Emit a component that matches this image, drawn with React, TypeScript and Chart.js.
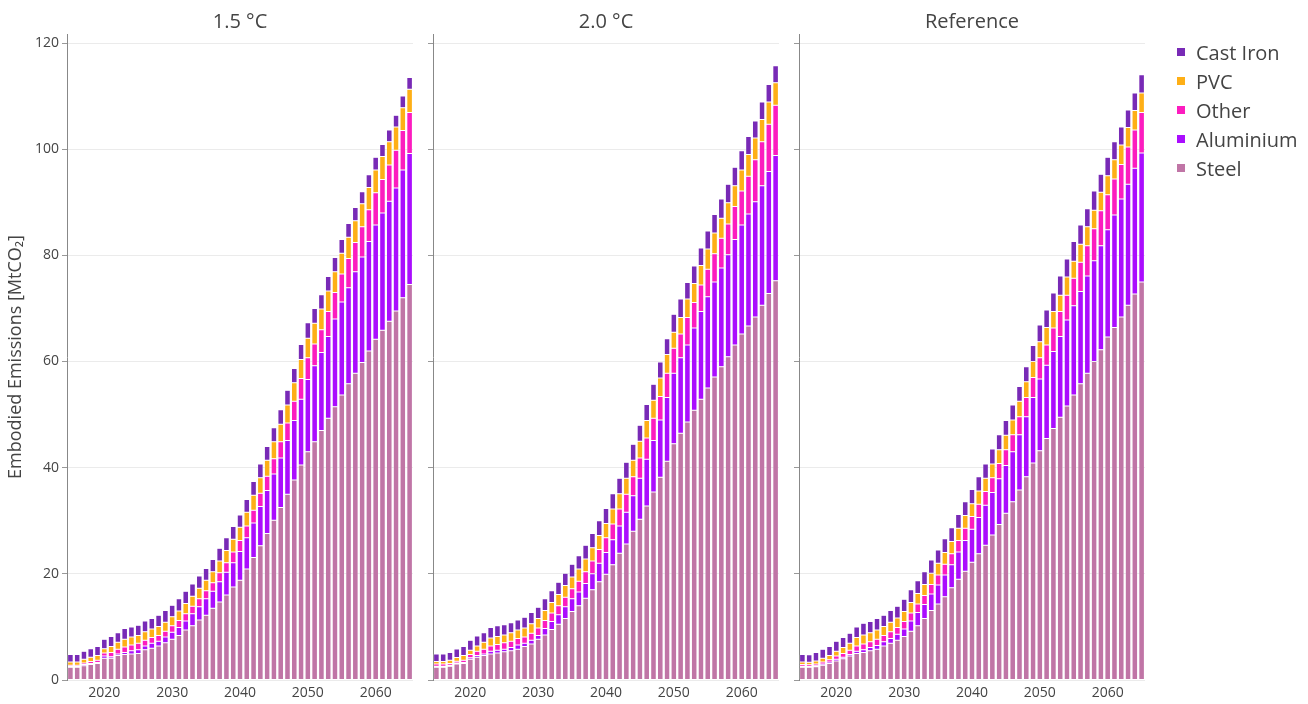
import React, { useEffect, useRef } from "react";
import { Chart, registerables } from "chart.js";

Chart.register(...registerables);

// ---------- data ----------
const years = [
  "2015", "2016", "2017", "2018", "2019", "2020", "2021", "2022", "2023", "2024",
  "2025", "2026", "2027", "2028", "2029", "2030", "2031", "2032", "2033", "2034",
  "2035", "2036", "2037", "2038", "2039", "2040", "2041", "2042", "2043", "2044",
  "2045", "2046", "2047", "2048", "2049", "2050", "2051", "2052", "2053", "2054",
  "2055", "2056", "2057", "2058", "2059", "2060", "2061", "2062", "2063", "2064", "2065",
];

const panelTitles = ["1.5 °C", "2.0 °C", "Reference"];
const seriesNames = ["Steel", "Aluminium", "Other", "PVC", "Cast Iron"];
const seriesColors = ["#C075A6", "#AA0DFE", "#FC1CBF", "#FEAF16", "#782AB6"];
const yTicks = [0, 20, 40, 60, 80, 100, 120];
const xTickLabels = ["2020", "2030", "2040", "2050", "2060"];

// 1.5 °C
const steel15 = [2.4, 2.4, 2.7, 2.9, 3.1, 4.1, 4.1, 4.6, 4.8, 4.9, 5.0, 5.7, 6.0, 6.4, 7.0, 7.7, 8.4, 9.4, 10.2, 11.3, 12.2, 13.5, 14.7, 16.0, 17.5, 18.8, 20.9, 23.1, 25.3, 27.6, 30.1, 32.5, 35.0, 37.7, 40.5, 43.0, 44.9, 47.0, 49.3, 51.5, 53.7, 55.8, 57.8, 59.8, 62.0, 64.2, 65.9, 67.6, 69.5, 72.0, 74.5];
const alu15 = [0.15, 0.15, 0.2, 0.2, 0.2, 0.4, 0.3, 0.3, 0.4, 0.6, 0.7, 0.7, 0.9, 0.9, 1.1, 1.3, 1.5, 1.7, 2.3, 2.5, 3.1, 3.2, 3.8, 4.3, 4.6, 5.4, 5.9, 6.5, 7.4, 8.1, 8.7, 9.3, 10.1, 11.2, 12.4, 13.6, 14.3, 14.7, 15.4, 16.5, 17.5, 18.1, 19.1, 19.9, 20.6, 21.5, 22.1, 22.6, 23.2, 24.1, 24.7];
const other15 = [0.25, 0.25, 0.3, 0.4, 0.4, 0.6, 0.8, 0.9, 1.0, 1.1, 1.2, 1.1, 1.1, 1.1, 1.1, 1.2, 1.3, 1.4, 1.4, 1.5, 1.5, 1.6, 1.7, 1.8, 2.0, 2.1, 2.2, 2.4, 2.5, 2.7, 2.9, 3.1, 3.3, 3.6, 3.9, 4.1, 4.1, 4.3, 4.7, 5.0, 5.3, 5.5, 5.5, 5.7, 6.0, 6.1, 6.3, 6.8, 7.1, 7.4, 7.7];
const pvc15 = [0.6, 0.6, 0.7, 0.8, 0.9, 0.8, 1.1, 1.3, 1.5, 1.5, 1.5, 1.6, 1.6, 1.7, 1.7, 1.7, 1.8, 1.9, 1.9, 2.0, 2.0, 2.1, 2.2, 2.3, 2.4, 2.5, 2.6, 2.8, 2.9, 3.0, 3.2, 3.3, 3.4, 3.5, 3.6, 3.7, 3.9, 3.9, 3.9, 3.9, 3.9, 4.0, 4.1, 4.3, 4.2, 4.3, 4.3, 4.4, 4.4, 4.3, 4.4];
const cast15 = [1.4, 1.4, 1.5, 1.6, 1.7, 1.8, 1.9, 1.8, 2.0, 1.9, 1.9, 2.0, 2.0, 2.1, 2.2, 2.2, 2.3, 2.3, 2.3, 2.3, 2.2, 2.3, 2.4, 2.4, 2.4, 2.3, 2.4, 2.6, 2.6, 2.6, 2.6, 2.7, 2.8, 2.7, 2.8, 2.9, 2.8, 2.7, 2.7, 2.7, 2.6, 2.6, 2.5, 2.3, 2.4, 2.4, 2.3, 2.2, 2.2, 2.2, 2.2];

// 2.0 °C
const steel20 = [2.4, 2.4, 2.6, 3.0, 3.1, 3.9, 4.3, 4.6, 4.9, 5.1, 5.3, 5.5, 5.8, 6.3, 6.8, 7.7, 8.5, 9.5, 10.5, 11.6, 12.9, 14.0, 15.4, 17.0, 18.5, 19.9, 21.7, 23.9, 25.6, 28.0, 30.3, 32.8, 35.4, 38.2, 41.2, 44.5, 46.5, 48.6, 50.8, 52.9, 55.0, 57.1, 59.0, 60.9, 63.1, 65.2, 66.7, 68.4, 70.6, 72.8, 75.2];
const alu20 = [0.2, 0.2, 0.2, 0.2, 0.2, 0.3, 0.3, 0.3, 0.5, 0.5, 0.5, 0.6, 0.8, 0.6, 0.7, 0.7, 1.2, 1.5, 1.8, 2.2, 2.4, 2.6, 2.8, 3.0, 3.5, 4.1, 4.7, 5.1, 6.0, 6.7, 7.7, 8.8, 9.7, 10.8, 12.0, 13.3, 14.2, 14.5, 15.5, 16.5, 17.2, 17.9, 18.6, 19.2, 19.9, 20.5, 21.1, 21.7, 22.5, 23.0, 23.6];
const other20 = [0.4, 0.4, 0.3, 0.35, 0.4, 0.6, 0.8, 0.9, 1.0, 1.1, 1.2, 1.2, 1.2, 1.2, 1.3, 1.4, 1.5, 1.6, 1.7, 1.8, 1.9, 2.0, 2.2, 2.4, 2.6, 2.8, 3.0, 3.2, 3.4, 3.6, 3.8, 4.0, 4.2, 4.4, 4.6, 4.7, 4.5, 5.2, 4.8, 5.0, 5.2, 5.3, 5.6, 5.8, 6.2, 6.4, 7.1, 7.9, 8.3, 8.9, 9.5];
const pvc20 = [0.5, 0.5, 0.6, 0.7, 0.9, 0.8, 1.0, 1.3, 1.5, 1.5, 1.5, 1.6, 1.6, 1.7, 1.8, 1.8, 1.9, 2.0, 2.1, 2.2, 2.2, 2.3, 2.4, 2.5, 2.6, 2.7, 2.8, 2.9, 3.0, 3.1, 3.2, 3.3, 3.4, 3.5, 3.5, 3.0, 3.1, 3.5, 3.6, 3.7, 3.8, 3.9, 3.8, 4.0, 3.9, 4.0, 4.1, 4.1, 4.2, 4.2, 4.2];
const cast20 = [1.4, 1.4, 1.5, 1.6, 1.7, 1.9, 1.9, 1.8, 2.0, 2.0, 1.9, 1.9, 1.9, 2.0, 2.1, 2.1, 2.2, 2.2, 2.3, 2.3, 2.4, 2.5, 2.6, 2.7, 2.8, 2.8, 2.9, 2.9, 3.0, 3.0, 3.0, 3.0, 3.0, 3.0, 3.0, 3.4, 3.5, 3.1, 3.3, 3.3, 3.4, 3.5, 3.6, 3.5, 3.5, 3.6, 3.4, 3.2, 3.3, 3.3, 3.2];

// Reference
const steelRef = [2.4, 2.4, 2.5, 2.8, 3.1, 3.6, 4.0, 4.5, 5.0, 5.2, 5.5, 5.8, 6.4, 6.9, 7.5, 8.2, 9.2, 10.2, 11.6, 13.1, 14.3, 15.7, 17.4, 19.0, 20.5, 22.2, 23.8, 25.4, 27.3, 29.3, 31.4, 33.6, 35.8, 38.3, 40.9, 43.2, 45.5, 47.4, 49.5, 51.6, 53.7, 55.8, 57.8, 60.0, 62.2, 64.6, 66.4, 68.4, 70.6, 72.7, 75.0];
const aluRef = [0.2, 0.15, 0.2, 0.2, 0.3, 0.3, 0.3, 0.3, 0.4, 0.5, 0.6, 0.7, 0.8, 0.9, 1.1, 1.4, 1.9, 2.5, 2.6, 3.1, 3.6, 4.1, 4.3, 5.1, 5.8, 6.2, 6.8, 7.5, 8.0, 8.6, 9.0, 9.4, 10.4, 11.3, 12.3, 13.5, 13.8, 14.5, 15.2, 16.2, 16.8, 17.4, 18.3, 19.0, 19.6, 20.2, 21.2, 22.2, 22.8, 23.7, 24.3];
const otherRef = [0.3, 0.3, 0.3, 0.4, 0.4, 0.6, 0.7, 0.8, 1.0, 1.1, 1.1, 1.2, 1.2, 1.3, 1.3, 1.4, 1.5, 1.6, 1.7, 1.8, 1.9, 2.0, 2.1, 2.2, 2.3, 2.4, 2.5, 2.6, 2.8, 2.9, 3.0, 3.2, 3.4, 3.6, 3.8, 4.0, 3.8, 4.4, 4.7, 4.7, 5.2, 5.5, 5.7, 6.0, 6.6, 6.6, 6.8, 6.5, 7.0, 7.2, 7.6];
const pvcRef = [0.5, 0.5, 0.6, 0.7, 0.8, 0.9, 1.1, 1.3, 1.6, 1.7, 1.7, 1.7, 1.7, 1.8, 1.8, 1.9, 2.0, 2.0, 2.1, 2.1, 2.2, 2.2, 2.3, 2.3, 2.4, 2.4, 2.5, 2.5, 2.6, 2.6, 2.7, 2.8, 2.9, 3.0, 3.0, 3.0, 3.3, 3.1, 3.1, 3.4, 3.2, 3.4, 3.6, 3.5, 3.5, 3.6, 3.6, 3.7, 3.7, 3.7, 3.7];
const castRef = [1.4, 1.4, 1.6, 1.7, 1.7, 1.9, 1.9, 1.9, 2.0, 2.2, 2.1, 2.2, 2.1, 2.2, 2.2, 2.3, 2.4, 2.4, 2.4, 2.5, 2.5, 2.6, 2.6, 2.6, 2.6, 2.7, 2.7, 2.7, 2.8, 2.8, 2.8, 2.8, 2.8, 2.8, 3.0, 3.2, 3.3, 3.5, 3.6, 3.4, 3.7, 3.6, 3.4, 3.6, 3.4, 3.5, 3.4, 3.4, 3.3, 3.3, 3.4];

const panelSeries = [
  [steel15, alu15, other15, pvc15, cast15],
  [steel20, alu20, other20, pvc20, cast20],
  [steelRef, aluRef, otherRef, pvcRef, castRef],
];

// ---------- layout ----------
const W = 1308;
const H = 704;
const PLOT_TOP = 34;
const PLOT_BOTTOM = 680;
const Y_MAX = 121.7;
const panelX = [
  [67, 413],
  [433, 779],
  [799, 1145],
];
const FONT = '"Open Sans", "DejaVu Sans", sans-serif';
const TEXT = "#444";

function PanelChart({ index }: { index: number }) {
  const ref = useRef<HTMLCanvasElement | null>(null);
  useEffect(() => {
    if (!ref.current) return;
    const [left, right] = panelX[index];
    const first = index === 0;
    const yAxisW = first ? 62 : 5;
    const title = panelTitles[index];
    const titlePlugin = {
      id: "panelTitle" + index,
      afterDraw(chart: any) {
        const { ctx, chartArea } = chart;
        ctx.save();
        ctx.font = `20px ${FONT}`;
        ctx.fillStyle = TEXT;
        ctx.textAlign = "center";
        ctx.textBaseline = "middle";
        ctx.fillText(title, (chartArea.left + chartArea.right) / 2, 22);
        ctx.restore();
      },
    };
    const datasets = seriesNames.map((name, i) => ({
      label: name,
      data: panelSeries[index][i],
      backgroundColor: seriesColors[i],
      borderColor: "rgba(255,255,255,0.75)",
      borderWidth: 0.5,
      borderSkipped: false,
      barPercentage: 0.82,
      categoryPercentage: 1.0,
    }));
    const chart = new Chart(ref.current, {
      type: "bar",
      data: { labels: years, datasets },
      plugins: [titlePlugin],
      options: {
        responsive: false,
        animation: false,
        devicePixelRatio: 1,
        layout: {
          padding: {
            left: left - yAxisW,
            right: W - right,
            top: PLOT_TOP,
            bottom: 0,
          },
        },
        plugins: {
          legend: { display: false },
          title: { display: false },
          tooltip: { enabled: false },
        },
        scales: {
          x: {
            type: "category",
            stacked: true,
            offset: true,
            grid: { display: false, drawTicks: false, tickLength: 0 },
            border: { display: false },
            ticks: {
              autoSkip: false,
              maxRotation: 0,
              minRotation: 0,
              padding: 5,
              color: TEXT,
              font: { family: FONT, size: 14 },
              callback: (_v: any, idx: number) =>
                xTickLabels.includes(years[idx]) ? years[idx] : "",
            },
            afterFit: (s: any) => {
              s.height = H - PLOT_BOTTOM;
            },
          },
          y: {
            type: "linear",
            stacked: true,
            min: 0,
            max: Y_MAX,
            afterBuildTicks: (s: any) => {
              s.ticks = yTicks.map((v) => ({ value: v }));
            },
            grid: {
              color: "#ebebeb",
              lineWidth: 1,
              tickColor: "#999",
              tickLength: 5,
              drawTicks: true,
            },
            border: { display: true, color: "#888", width: 1 },
            ticks: {
              display: first,
              padding: 3,
              color: TEXT,
              font: { family: FONT, size: 14 },
              callback: (v: any) => String(v),
            },
            title: {
              display: first,
              text: "Embodied Emissions [MtCO₂]",
              color: TEXT,
              font: { family: FONT, size: 18 },
              padding: { top: 0, bottom: 0 },
            },
            afterFit: (s: any) => {
              s.width = yAxisW;
            },
          },
        },
      },
    } as any);
    return () => chart.destroy();
  }, [index]);
  return (
    <canvas
      ref={ref}
      width={W}
      height={H}
      style={{ position: "absolute", left: 0, top: 0, width: W, height: H }}
    />
  );
}

const legendOrder = [4, 3, 2, 1, 0];
const legendY = [52, 81, 110, 139, 168];

export default function App() {
  return (
    <div
      style={{
        position: "absolute",
        left: 0,
        top: 0,
        width: W,
        height: H,
        background: "#fff",
        overflow: "hidden",
      }}
    >
      {[0, 1, 2].map((i) => (
        <PanelChart key={i} index={i} />
      ))}
      {legendOrder.map((si, k) => (
        <div
          key={si}
          style={{
            position: "absolute",
            left: 1177,
            top: legendY[k] - 14,
            height: 28,
            display: "flex",
            alignItems: "center",
            fontFamily: FONT,
            fontSize: 20,
            color: TEXT,
            whiteSpace: "nowrap",
          }}
        >
          <span
            style={{
              display: "inline-block",
              width: 8,
              height: 8,
              background: seriesColors[si],
              marginRight: 11,
            }}
          />
          <span>{seriesNames[si]}</span>
        </div>
      ))}
    </div>
  );
}
